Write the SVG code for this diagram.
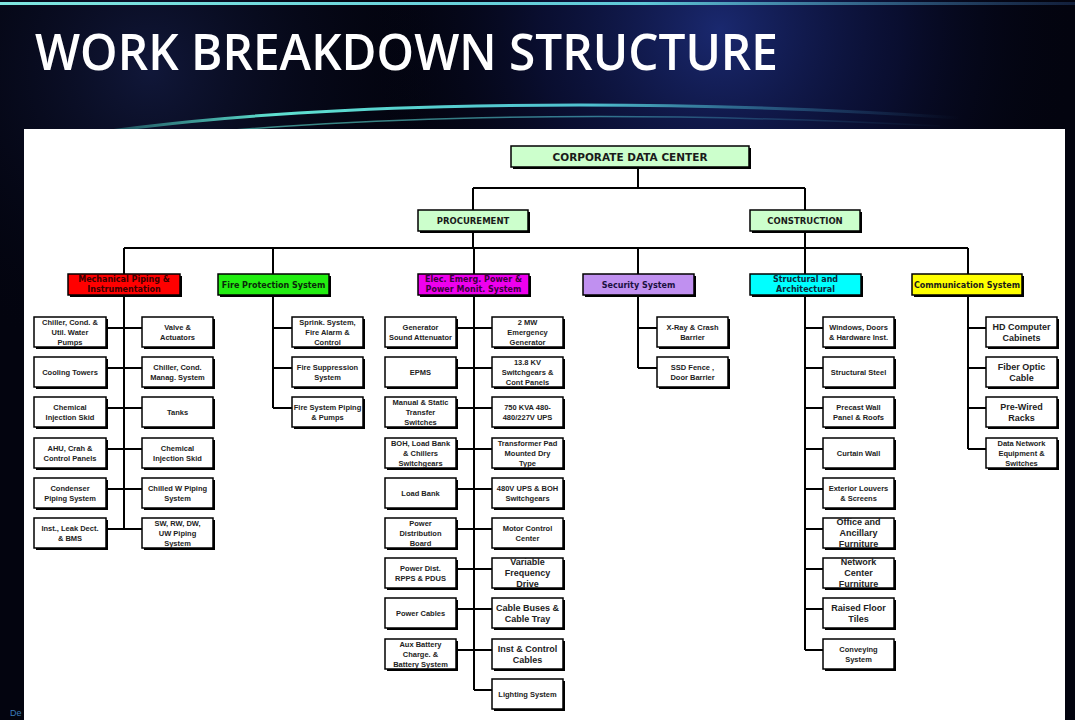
<svg xmlns="http://www.w3.org/2000/svg" width="1075" height="720" viewBox="0 0 1075 720">
<defs>
<radialGradient id="glow1" cx="720" cy="30" r="360" gradientUnits="userSpaceOnUse">
<stop offset="0" stop-color="#1e2f80" stop-opacity="0.85"/>
<stop offset="0.5" stop-color="#101850" stop-opacity="0.5"/>
<stop offset="1" stop-color="#03040f" stop-opacity="0"/>
</radialGradient>
<radialGradient id="glow2" cx="150" cy="70" r="300" gradientUnits="userSpaceOnUse">
<stop offset="0" stop-color="#141c44" stop-opacity="0.8"/>
<stop offset="1" stop-color="#03040f" stop-opacity="0"/>
</radialGradient>
<linearGradient id="topline" x1="0" y1="0" x2="1075" y2="0" gradientUnits="userSpaceOnUse">
<stop offset="0" stop-color="#7fe6e0"/>
<stop offset="0.6" stop-color="#5fc8d8"/>
<stop offset="1" stop-color="#2a4a80" stop-opacity="0.4"/>
</linearGradient>
<linearGradient id="arcg" x1="40" y1="0" x2="960" y2="0" gradientUnits="userSpaceOnUse">
<stop offset="0" stop-color="#3fd0c0" stop-opacity="0"/>
<stop offset="0.25" stop-color="#5fe0d0"/>
<stop offset="0.6" stop-color="#4fc0d0"/>
<stop offset="1" stop-color="#2a6090" stop-opacity="0"/>
</linearGradient>
<style>
.bx{fill:#fff;stroke:#000;stroke-width:1.5}
.sh{fill:#000}
.t{font-family:"Liberation Sans",Arial,sans-serif;font-weight:bold;font-size:7.5px;fill:#222;text-anchor:middle}
.tl{font-size:9px}
.ct{font-family:"DejaVu Sans",Verdana,sans-serif;font-weight:bold;font-size:8px;fill:#1a1a1a;text-anchor:middle}
.tt{font-size:8.5px}
.top{fill:#ccffcc;stroke:#000;stroke-width:1.5}
.ln{stroke:#000;stroke-width:2;fill:none}
</style>
</defs>
<rect width="1075" height="720" fill="#03040f"/>
<rect width="1075" height="720" fill="url(#glow2)"/>
<rect width="1075" height="720" fill="url(#glow1)"/>
<rect x="0" y="2" width="1075" height="3" fill="url(#topline)"/>
<path d="M40 142 C250 104 600 94 960 118" stroke="url(#arcg)" stroke-width="3" fill="none"/>
<path d="M60 150 C280 116 600 108 940 126" stroke="url(#arcg)" stroke-width="1.5" fill="none" opacity="0.6"/>
<rect x="24" y="129" width="1041" height="591" fill="#fff"/>
<text x="35" y="70" font-family="'Open Sans','DejaVu Sans',sans-serif" font-weight="600" font-size="50" fill="#fff" textLength="743" lengthAdjust="spacingAndGlyphs">WORK BREAKDOWN STRUCTURE</text>
<text x="10" y="716" font-family="'Liberation Sans',Arial,sans-serif" font-size="9" fill="#3a7ab8">De</text>

<g id="connectors">
<path class="ln" d="M638 168V188M473 188H805M473 188V210M805 188V210M473 232V248M124 248H968M124 248V274M273 248V274M638 248V274M968 248V274"/>
<path class="ln" d="M124 296V529M106 328H142M106 368H142M106 408H142M106 449H142M106 489H142M106 529H142"/>
<path class="ln" d="M273 296V408M273 328H292M273 368H292M273 408H292"/>
<path class="ln" d="M474 248V690M456 328H492M456 368H492M456 408H492M456 449H492M456 489H492M456 529H492M456 569H492M456 609H492M456 650H492M474 690H492"/>
<path class="ln" d="M638 296V368M638 328H657M638 368H657"/>
<path class="ln" d="M805 232V650M805 328H823M805 368H823M805 408H823M805 449H823M805 489H823M805 529H823M805 569H823M805 609H823M805 650H823"/>
<path class="ln" d="M968 296V449M968 328H986M968 368H986M968 408H986M968 449H986"/>
</g>

<g id="n-root"><rect class="sh" x="513" y="148" width="238" height="21"/><rect class="top" x="511" y="146" width="238" height="21"/><text class="ct" x="630" y="160.5" font-size="10.5" style="font-size:10.5px">CORPORATE DATA CENTER</text></g>
<g id="n-procurement"><rect class="sh" x="420" y="212" width="110" height="21"/><rect class="top" x="418" y="210" width="110" height="21"/><text class="ct tt" x="473" y="224">PROCUREMENT</text></g>
<g id="n-construction"><rect class="sh" x="752" y="212" width="110" height="21"/><rect class="top" x="750" y="210" width="110" height="21"/><text class="ct tt" x="805" y="224">CONSTRUCTION</text></g>

<g id="n-mech"><rect class="sh" x="70" y="276" width="112" height="21"/><rect class="bx" x="68" y="274" width="112" height="21" style="fill:#ff0000"/><text class="ct" style="fill:#3a0000"><tspan x="124" y="282">Mechanical Piping &amp;</tspan><tspan x="124" y="292">Instrumentation</tspan></text></g>
<g id="n-fire"><rect class="sh" x="220" y="276" width="111" height="21"/><rect class="bx" x="218" y="274" width="111" height="21" style="fill:#22ee11"/><text class="ct" x="273.5" y="287.5" style="fill:#0a2a0a">Fire Protection System</text></g>
<g id="n-elec"><rect class="sh" x="420" y="276" width="111" height="21"/><rect class="bx" x="418" y="274" width="111" height="21" style="fill:#ee00ee"/><text class="ct" style="fill:#3a003a"><tspan x="473.5" y="282">Elec. Emerg. Power &amp;</tspan><tspan x="473.5" y="292">Power Monit. System</tspan></text></g>
<g id="n-sec"><rect class="sh" x="585" y="276" width="111" height="21"/><rect class="bx" x="583" y="274" width="111" height="21" style="fill:#c090f0"/><text class="ct" x="638.5" y="287.5" style="fill:#1a1040">Security System</text></g>
<g id="n-str"><rect class="sh" x="752" y="276" width="111" height="21"/><rect class="bx" x="750" y="274" width="111" height="21" style="fill:#00ffff"/><text class="ct" style="fill:#0a2a3a"><tspan x="805.5" y="282">Structural and</tspan><tspan x="805.5" y="292">Architectural</tspan></text></g>
<g id="n-comm"><rect class="sh" x="914" y="276" width="110" height="21"/><rect class="bx" x="912" y="274" width="110" height="21" style="fill:#ffff00"/><text class="ct" x="967" y="287.5">Communication System</text></g>

<g id="n-m1"><rect class="sh" x="36" y="319" width="72" height="30"/><rect class="bx" x="34" y="317" width="72" height="30"/><text class="t"><tspan x="70" y="324.7">Chiller, Cond. &amp;</tspan><tspan x="70" y="334.7">Util. Water</tspan><tspan x="70" y="344.7">Pumps</tspan></text></g>
<g id="n-m2"><rect class="sh" x="36" y="359" width="72" height="30"/><rect class="bx" x="34" y="357" width="72" height="30"/><text class="t" x="70" y="374.7">Cooling Towers</text></g>
<g id="n-m3"><rect class="sh" x="36" y="399" width="72" height="30"/><rect class="bx" x="34" y="397" width="72" height="30"/><text class="t"><tspan x="70" y="409.7">Chemical</tspan><tspan x="70" y="419.7">Injection Skid</tspan></text></g>
<g id="n-m4"><rect class="sh" x="36" y="440" width="72" height="30"/><rect class="bx" x="34" y="438" width="72" height="30"/><text class="t"><tspan x="70" y="450.7">AHU, Crah &amp;</tspan><tspan x="70" y="460.7">Control Panels</tspan></text></g>
<g id="n-m5"><rect class="sh" x="36" y="480" width="72" height="30"/><rect class="bx" x="34" y="478" width="72" height="30"/><text class="t"><tspan x="70" y="490.7">Condenser</tspan><tspan x="70" y="500.7">Piping System</tspan></text></g>
<g id="n-m6"><rect class="sh" x="36" y="520" width="72" height="30"/><rect class="bx" x="34" y="518" width="72" height="30"/><text class="t"><tspan x="70" y="530.7">Inst., Leak Dect.</tspan><tspan x="70" y="540.7">&amp; BMS</tspan></text></g>

<g id="n-m7"><rect class="sh" x="144" y="319" width="71" height="30"/><rect class="bx" x="142" y="317" width="71" height="30"/><text class="t"><tspan x="177.5" y="329.7">Valve &amp;</tspan><tspan x="177.5" y="339.7">Actuators</tspan></text></g>
<g id="n-m8"><rect class="sh" x="144" y="359" width="71" height="30"/><rect class="bx" x="142" y="357" width="71" height="30"/><text class="t"><tspan x="177.5" y="369.7">Chiller, Cond.</tspan><tspan x="177.5" y="379.7">Manag. System</tspan></text></g>
<g id="n-m9"><rect class="sh" x="144" y="399" width="71" height="30"/><rect class="bx" x="142" y="397" width="71" height="30"/><text class="t" x="177.5" y="414.7">Tanks</text></g>
<g id="n-m10"><rect class="sh" x="144" y="440" width="71" height="30"/><rect class="bx" x="142" y="438" width="71" height="30"/><text class="t"><tspan x="177.5" y="450.7">Chemical</tspan><tspan x="177.5" y="460.7">Injection Skid</tspan></text></g>
<g id="n-m11"><rect class="sh" x="144" y="480" width="71" height="30"/><rect class="bx" x="142" y="478" width="71" height="30"/><text class="t"><tspan x="177.5" y="490.7">Chilled W Piping</tspan><tspan x="177.5" y="500.7">System</tspan></text></g>
<g id="n-m12"><rect class="sh" x="144" y="520" width="71" height="30"/><rect class="bx" x="142" y="518" width="71" height="30"/><text class="t"><tspan x="177.5" y="525.7">SW, RW, DW,</tspan><tspan x="177.5" y="535.7">UW Piping</tspan><tspan x="177.5" y="545.7">System</tspan></text></g>

<g id="n-f1"><rect class="sh" x="294" y="319" width="71" height="30"/><rect class="bx" x="292" y="317" width="71" height="30"/><text class="t"><tspan x="327.5" y="324.7">Sprink. System,</tspan><tspan x="327.5" y="334.7">Fire Alarm &amp;</tspan><tspan x="327.5" y="344.7">Control</tspan></text></g>
<g id="n-f2"><rect class="sh" x="294" y="359" width="71" height="30"/><rect class="bx" x="292" y="357" width="71" height="30"/><text class="t"><tspan x="327.5" y="369.7">Fire Suppression</tspan><tspan x="327.5" y="379.7">System</tspan></text></g>
<g id="n-f3"><rect class="sh" x="294" y="399" width="71" height="30"/><rect class="bx" x="292" y="397" width="71" height="30"/><text class="t"><tspan x="327.5" y="409.7">Fire System Piping</tspan><tspan x="327.5" y="419.7">&amp; Pumps</tspan></text></g>

<g id="n-e1"><rect class="sh" x="387" y="319" width="71" height="30"/><rect class="bx" x="385" y="317" width="71" height="30"/><text class="t"><tspan x="420.5" y="329.7">Generator</tspan><tspan x="420.5" y="339.7">Sound Attenuator</tspan></text></g>
<g id="n-e2"><rect class="sh" x="387" y="359" width="71" height="30"/><rect class="bx" x="385" y="357" width="71" height="30"/><text class="t" x="420.5" y="374.7">EPMS</text></g>
<g id="n-e3"><rect class="sh" x="387" y="399" width="71" height="30"/><rect class="bx" x="385" y="397" width="71" height="30"/><text class="t"><tspan x="420.5" y="404.7">Manual &amp; Static</tspan><tspan x="420.5" y="414.7">Transfer</tspan><tspan x="420.5" y="424.7">Switches</tspan></text></g>
<g id="n-e4"><rect class="sh" x="387" y="440" width="71" height="30"/><rect class="bx" x="385" y="438" width="71" height="30"/><text class="t"><tspan x="420.5" y="445.7">BOH, Load Bank</tspan><tspan x="420.5" y="455.7">&amp; Chillers</tspan><tspan x="420.5" y="465.7">Switchgears</tspan></text></g>
<g id="n-e5"><rect class="sh" x="387" y="480" width="71" height="30"/><rect class="bx" x="385" y="478" width="71" height="30"/><text class="t" x="420.5" y="495.7">Load Bank</text></g>
<g id="n-e6"><rect class="sh" x="387" y="520" width="71" height="30"/><rect class="bx" x="385" y="518" width="71" height="30"/><text class="t"><tspan x="420.5" y="525.7">Power</tspan><tspan x="420.5" y="535.7">Distribution</tspan><tspan x="420.5" y="545.7">Board</tspan></text></g>
<g id="n-e7"><rect class="sh" x="387" y="560" width="71" height="30"/><rect class="bx" x="385" y="558" width="71" height="30"/><text class="t"><tspan x="420.5" y="570.7">Power Dist.</tspan><tspan x="420.5" y="580.7">RPPS &amp; PDUS</tspan></text></g>
<g id="n-e8"><rect class="sh" x="387" y="600" width="71" height="30"/><rect class="bx" x="385" y="598" width="71" height="30"/><text class="t" x="420.5" y="615.7">Power Cables</text></g>
<g id="n-e9"><rect class="sh" x="387" y="641" width="71" height="30"/><rect class="bx" x="385" y="639" width="71" height="30"/><text class="t"><tspan x="420.5" y="646.7">Aux Battery</tspan><tspan x="420.5" y="656.7">Charge. &amp;</tspan><tspan x="420.5" y="666.7">Battery System</tspan></text></g>

<g id="n-e10"><rect class="sh" x="494" y="319" width="71" height="30"/><rect class="bx" x="492" y="317" width="71" height="30"/><text class="t"><tspan x="527.5" y="324.7">2 MW</tspan><tspan x="527.5" y="334.7">Emergency</tspan><tspan x="527.5" y="344.7">Generator</tspan></text></g>
<g id="n-e11"><rect class="sh" x="494" y="359" width="71" height="30"/><rect class="bx" x="492" y="357" width="71" height="30"/><text class="t"><tspan x="527.5" y="364.7">13.8 KV</tspan><tspan x="527.5" y="374.7">Switchgears &amp;</tspan><tspan x="527.5" y="384.7">Cont Panels</tspan></text></g>
<g id="n-e12"><rect class="sh" x="494" y="399" width="71" height="30"/><rect class="bx" x="492" y="397" width="71" height="30"/><text class="t"><tspan x="527.5" y="409.7">750 KVA 480-</tspan><tspan x="527.5" y="419.7">480/227V UPS</tspan></text></g>
<g id="n-e13"><rect class="sh" x="494" y="440" width="71" height="30"/><rect class="bx" x="492" y="438" width="71" height="30"/><text class="t"><tspan x="527.5" y="445.7">Transformer Pad</tspan><tspan x="527.5" y="455.7">Mounted Dry</tspan><tspan x="527.5" y="465.7">Type</tspan></text></g>
<g id="n-e14"><rect class="sh" x="494" y="480" width="71" height="30"/><rect class="bx" x="492" y="478" width="71" height="30"/><text class="t"><tspan x="527.5" y="490.7">480V UPS &amp; BOH</tspan><tspan x="527.5" y="500.7">Switchgears</tspan></text></g>
<g id="n-e15"><rect class="sh" x="494" y="520" width="71" height="30"/><rect class="bx" x="492" y="518" width="71" height="30"/><text class="t"><tspan x="527.5" y="530.7">Motor Control</tspan><tspan x="527.5" y="540.7">Center</tspan></text></g>
<g id="n-e16"><rect class="sh" x="494" y="560" width="71" height="30"/><rect class="bx" x="492" y="558" width="71" height="30"/><text class="t tl"><tspan x="527.5" y="565.2">Variable</tspan><tspan x="527.5" y="576.2">Frequency</tspan><tspan x="527.5" y="587.2">Drive</tspan></text></g>
<g id="n-e17"><rect class="sh" x="494" y="600" width="71" height="30"/><rect class="bx" x="492" y="598" width="71" height="30"/><text class="t tl"><tspan x="527.5" y="610.7">Cable Buses &amp;</tspan><tspan x="527.5" y="621.7">Cable Tray</tspan></text></g>
<g id="n-e18"><rect class="sh" x="494" y="641" width="71" height="30"/><rect class="bx" x="492" y="639" width="71" height="30"/><text class="t tl"><tspan x="527.5" y="651.7">Inst &amp; Control</tspan><tspan x="527.5" y="662.7">Cables</tspan></text></g>
<g id="n-e19"><rect class="sh" x="494" y="681" width="71" height="30"/><rect class="bx" x="492" y="679" width="71" height="30"/><text class="t" x="527.5" y="696.7">Lighting System</text></g>

<g id="n-s1"><rect class="sh" x="659" y="319" width="71" height="30"/><rect class="bx" x="657" y="317" width="71" height="30"/><text class="t"><tspan x="692.5" y="329.7">X-Ray &amp; Crash</tspan><tspan x="692.5" y="339.7">Barrier</tspan></text></g>
<g id="n-s2"><rect class="sh" x="659" y="359" width="71" height="30"/><rect class="bx" x="657" y="357" width="71" height="30"/><text class="t"><tspan x="692.5" y="369.7">SSD Fence ,</tspan><tspan x="692.5" y="379.7">Door Barrier</tspan></text></g>

<g id="n-a1"><rect class="sh" x="825" y="319" width="71" height="30"/><rect class="bx" x="823" y="317" width="71" height="30"/><text class="t"><tspan x="858.5" y="329.7">Windows, Doors</tspan><tspan x="858.5" y="339.7">&amp; Hardware Inst.</tspan></text></g>
<g id="n-a2"><rect class="sh" x="825" y="359" width="71" height="30"/><rect class="bx" x="823" y="357" width="71" height="30"/><text class="t" x="858.5" y="374.7">Structural Steel</text></g>
<g id="n-a3"><rect class="sh" x="825" y="399" width="71" height="30"/><rect class="bx" x="823" y="397" width="71" height="30"/><text class="t"><tspan x="858.5" y="409.7">Precast Wall</tspan><tspan x="858.5" y="419.7">Panel &amp; Roofs</tspan></text></g>
<g id="n-a4"><rect class="sh" x="825" y="440" width="71" height="30"/><rect class="bx" x="823" y="438" width="71" height="30"/><text class="t" x="858.5" y="455.7">Curtain Wall</text></g>
<g id="n-a5"><rect class="sh" x="825" y="480" width="71" height="30"/><rect class="bx" x="823" y="478" width="71" height="30"/><text class="t"><tspan x="858.5" y="490.7">Exterior Louvers</tspan><tspan x="858.5" y="500.7">&amp; Screens</tspan></text></g>
<g id="n-a6"><rect class="sh" x="825" y="520" width="71" height="30"/><rect class="bx" x="823" y="518" width="71" height="30"/><text class="t tl"><tspan x="858.5" y="525.2">Office and</tspan><tspan x="858.5" y="536.2">Ancillary</tspan><tspan x="858.5" y="547.2">Furniture</tspan></text></g>
<g id="n-a7"><rect class="sh" x="825" y="560" width="71" height="30"/><rect class="bx" x="823" y="558" width="71" height="30"/><text class="t tl"><tspan x="858.5" y="565.2">Network</tspan><tspan x="858.5" y="576.2">Center</tspan><tspan x="858.5" y="587.2">Furniture</tspan></text></g>
<g id="n-a8"><rect class="sh" x="825" y="600" width="71" height="30"/><rect class="bx" x="823" y="598" width="71" height="30"/><text class="t tl"><tspan x="858.5" y="610.7">Raised Floor</tspan><tspan x="858.5" y="621.7">Tiles</tspan></text></g>
<g id="n-a9"><rect class="sh" x="825" y="641" width="71" height="30"/><rect class="bx" x="823" y="639" width="71" height="30"/><text class="t"><tspan x="858.5" y="651.7">Conveying</tspan><tspan x="858.5" y="661.7">System</tspan></text></g>

<g id="n-c1"><rect class="sh" x="988" y="319" width="71" height="30"/><rect class="bx" x="986" y="317" width="71" height="30"/><text class="t tl"><tspan x="1021.5" y="329.7">HD Computer</tspan><tspan x="1021.5" y="340.7">Cabinets</tspan></text></g>
<g id="n-c2"><rect class="sh" x="988" y="359" width="71" height="30"/><rect class="bx" x="986" y="357" width="71" height="30"/><text class="t tl"><tspan x="1021.5" y="369.7">Fiber Optic</tspan><tspan x="1021.5" y="380.7">Cable</tspan></text></g>
<g id="n-c3"><rect class="sh" x="988" y="399" width="71" height="30"/><rect class="bx" x="986" y="397" width="71" height="30"/><text class="t tl"><tspan x="1021.5" y="409.7">Pre-Wired</tspan><tspan x="1021.5" y="420.7">Racks</tspan></text></g>
<g id="n-c4"><rect class="sh" x="988" y="440" width="71" height="30"/><rect class="bx" x="986" y="438" width="71" height="30"/><text class="t"><tspan x="1021.5" y="445.7">Data Network</tspan><tspan x="1021.5" y="455.7">Equipment &amp;</tspan><tspan x="1021.5" y="465.7">Switches</tspan></text></g>
</svg>
